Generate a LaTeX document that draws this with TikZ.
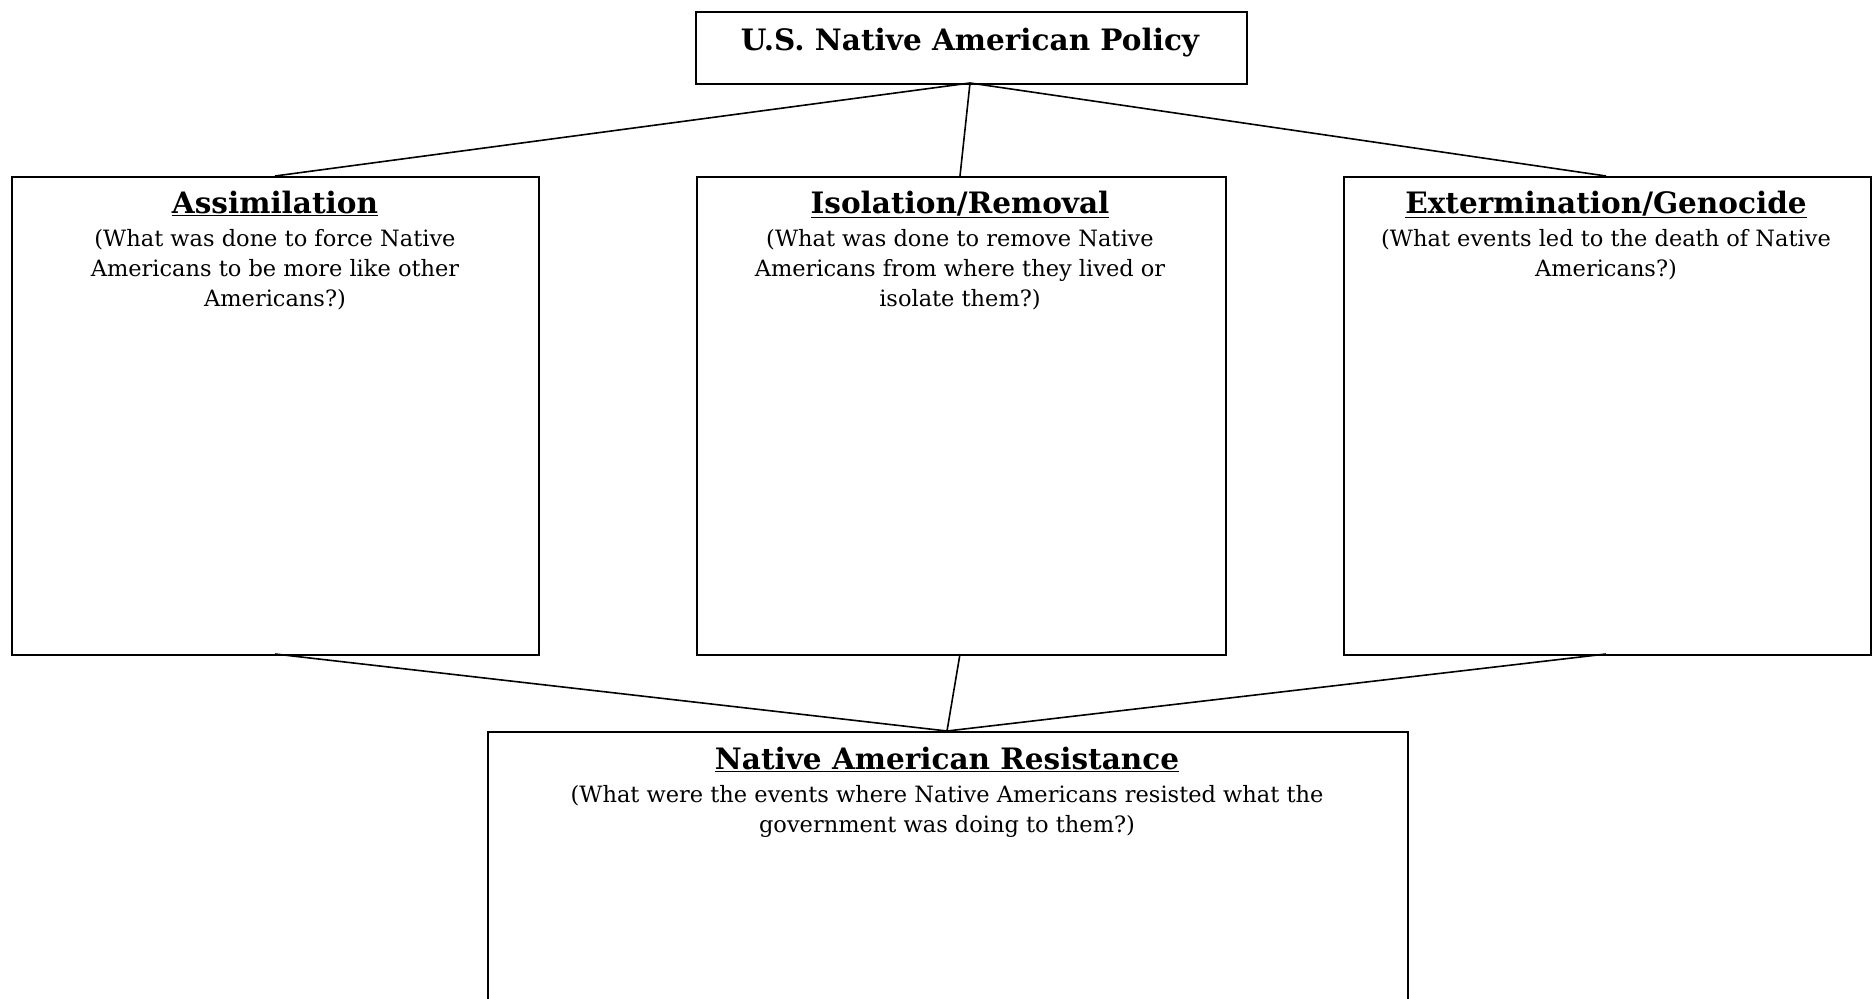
\documentclass[tikz,border=0pt]{standalone}
\usepackage{fontspec}
\setmainfont{DejaVu Serif}
\begin{document}
\begin{tikzpicture}[x=1pt,y=-1pt,
  box/.style={draw,line width=1.6pt,rectangle,inner sep=0pt,anchor=north west},
  conn/.style={line width=1.6pt},
  head/.style={font=\fontsize{29.5}{30}\selectfont\bfseries,inner sep=0pt,anchor=base},
  body/.style={font=\fontsize{22.5}{30}\selectfont,inner sep=0pt,anchor=north,align=center}]
\useasboundingbox (0,0) rectangle (1875,999);
\clip (0,0) rectangle (1875,999);
% boxes
\node[box,minimum width=551pt,minimum height=72pt] (top) at (695,11) {};
\node[box,minimum width=527pt,minimum height=478pt] (assim) at (11,176) {};
\node[box,minimum width=529pt,minimum height=478pt] (iso) at (696,176) {};
\node[box,minimum width=527pt,minimum height=478pt] (ext) at (1343,176) {};
\node[box,minimum width=920pt,minimum height=320pt] (res) at (487,731) {};
% connector points
\coordinate (topb) at (970,83);
\coordinate (rest) at (947,731);
\coordinate (assimt) at (275,176);
\coordinate (isot) at (960,176);
\coordinate (extt) at (1606,176);
\coordinate (assimb) at (275,654);
\coordinate (isob) at (960,654);
\coordinate (extb) at (1606,654);
\draw[conn] (assimt) -- (topb) -- (extt);
\draw[conn] (topb) -- (isot);
\draw[conn] (assimb) -- (rest) -- (extb);
\draw[conn] (isob) -- (rest);
% texts
\node[head] (ttl) at (970,50) {U.S. Native American Policy};
\node[head] (h1) at (275,213) {\underline{Assimilation}};
\node[body] (b1) at (275,229) {(What was done to force Native\\Americans to be more like other\\Americans?)};
\node[head] (h2) at (960,213) {\underline{Isolation/Removal}};
\node[body] (b2) at (960,229) {(What was done to remove Native\\Americans from where they lived or\\isolate them?)};
\node[head] (h3) at (1606,213) {\underline{Extermination/Genocide}};
\node[body] (b3) at (1606,229) {(What events led to the death of Native\\Americans?)};
\node[head] (h4) at (947,769) {\underline{Native American Resistance}};
\node[body] (b4) at (947,785) {(What were the events where Native Americans resisted what the\\government was doing to them?)};
\end{tikzpicture}
\end{document}
